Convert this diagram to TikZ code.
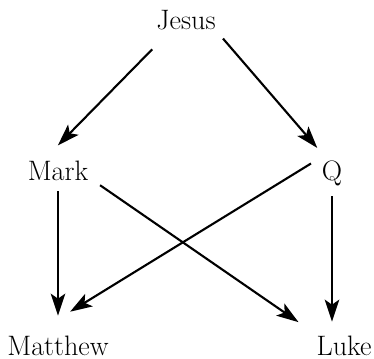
\documentclass[tikz,border=0pt]{standalone}
\usetikzlibrary{arrows.meta}
\begin{document}
\begin{tikzpicture}[gospel/.style={anchor=base, inner sep=1pt, font=\fontsize{16}{19}\selectfont}, >={Stealth[length=4.4mm, width=2.9mm, inset=1mm]}, every path/.style={line width=1.2pt}]
\useasboundingbox (0,0) rectangle (7.48,7.16);
\node[gospel] (jesus) at (3.72,6.56) {Jesus};
\node[gospel] (mark) at (1.16,3.54) {Mark};
\node[gospel] (q) at (6.64,3.54) {Q};
\node[gospel] (matthew) at (1.16,0.06) {Matthew};
\node[gospel] (luke) at (6.88,0.06) {Luke};
\draw[->, shorten <=4.5mm, shorten >=3.7mm] (jesus.-145) -- (mark.136); \draw[->, shorten <=1.4mm, shorten >=2.8mm] (jesus.south east) -- (q.110);
\draw[->, shorten <=1.4mm, shorten >=3.4mm] (mark.south) -- (mark.south |- matthew.north); \draw[->, shorten <=2.2mm, shorten >=3.7mm] (mark.-13) -- (luke.north west);
\draw[->, shorten <=1.9mm, shorten >=8mm] (q.north west) -- (matthew.150); \draw[->, shorten <=1.4mm, shorten >=2.2mm] (q.south) -- (q.south |- luke.north);
\end{tikzpicture}
\end{document}
